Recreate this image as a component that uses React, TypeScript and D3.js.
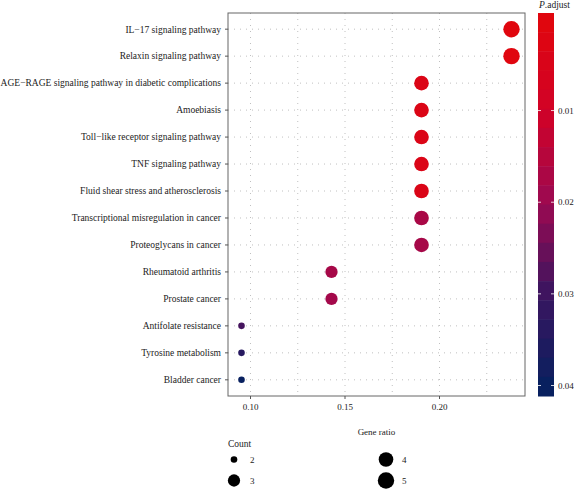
import React from "react";
import * as d3 from "d3";

const pathways = [
  "IL\u221217 signaling pathway",
  "Relaxin signaling pathway",
  "AGE\u2212RAGE signaling pathway in diabetic complications",
  "Amoebiasis",
  "Toll\u2212like receptor signaling pathway",
  "TNF signaling pathway",
  "Fluid shear stress and atherosclerosis",
  "Transcriptional misregulation in cancer",
  "Proteoglycans in cancer",
  "Rheumatoid arthritis",
  "Prostate cancer",
  "Antifolate resistance",
  "Tyrosine metabolism",
  "Bladder cancer",
];
const counts = [5, 5, 4, 4, 4, 4, 4, 4, 4, 3, 3, 2, 2, 2];
const geneRatios = [5 / 21, 5 / 21, 4 / 21, 4 / 21, 4 / 21, 4 / 21, 4 / 21, 4 / 21, 4 / 21, 3 / 21, 3 / 21, 2 / 21, 2 / 21, 2 / 21];
const pAdjust = [0.0004, 0.0006, 0.0035, 0.0035, 0.0038, 0.0038, 0.004, 0.0175, 0.018, 0.018, 0.0185, 0.029, 0.034, 0.0401];
const xTicks = [0.1, 0.15, 0.2];
const xMinor = [0.125, 0.175, 0.225];
const colorTicks = [0.01, 0.02, 0.03, 0.04];
const legendCounts = [2, 3, 4, 5];
const colorStops = ["#E0060E", "#D00228", "#9A0A52", "#3A1560", "#08205F"];

const W = 574, H = 489;
const panel = { left: 228, top: 13, right: 525, bottom: 396 };
const FONT = "'Liberation Serif', 'DejaVu Serif', serif";

export default function App() {
  const xMin = d3.min(geneRatios)!, xMax = d3.max(geneRatios)!;
  const pad = (xMax - xMin) * 0.05;
  const x = d3.scaleLinear().domain([xMin - pad, xMax + pad]).range([panel.left, panel.right]);
  const y = d3.scalePoint<string>().domain(pathways).range([panel.top, panel.bottom]).padding(0.6);
  const r = d3.scaleSqrt().domain([0, 3]).range([3.3, 8.2]);
  const pMin = d3.min(pAdjust)!, pMax = d3.max(pAdjust)!;
  const stopDomain = colorStops.map((_, i) => pMin + ((pMax - pMin) * i) / (colorStops.length - 1));
  const color = d3.scaleLinear<string>().domain(stopDomain).range(colorStops).interpolate(d3.interpolateRgb);

  const bar = { x: 538, w: 16, top: 13, bottom: 396 };
  const nbin = 20;
  const binH = (bar.bottom - bar.top) / nbin;
  const barPos = d3.scaleLinear().domain([pMin, pMax]).range([bar.top + binH / 2, bar.bottom - binH / 2]);
  const bins = d3.range(nbin).map((i) => ({ i, v: pMin + ((pMax - pMin) * i) / (nbin - 1) }));

  return (
    <svg width={W} height={H} style={{ position: "absolute", left: 0, top: 0, background: "#fff", fontFamily: FONT }}>
      {pathways.map((p) => (
        <line key={"gy" + p} x1={panel.left} x2={panel.right} y1={y(p)} y2={y(p)} stroke="#b0b0b0" strokeWidth={0.8} strokeDasharray="1,5" />
      ))}
      {[...xTicks, ...xMinor].map((t) => (
        <line key={"gx" + t} x1={x(t)} x2={x(t)} y1={panel.top} y2={panel.bottom} stroke="#b0b0b0" strokeWidth={0.8} strokeDasharray="1,5" />
      ))}
      {pathways.map((p, i) => (
        <circle key={"pt" + p} cx={x(geneRatios[i])} cy={y(p)} r={r(counts[i] - 2)} fill={color(pAdjust[i])} />
      ))}
      <rect x={panel.left} y={panel.top} width={panel.right - panel.left} height={panel.bottom - panel.top} fill="none" stroke="#666" strokeWidth={1} />
      {pathways.map((p) => (
        <g key={"yt" + p}>
          <line x1={panel.left - 3} x2={panel.left} y1={y(p)} y2={y(p)} stroke="#555" />
          <text x={panel.left - 7} y={y(p)} dy="0.35em" textAnchor="end" fontSize={9.5} fill="#222">{p}</text>
        </g>
      ))}
      {xTicks.map((t) => (
        <g key={"xt" + t}>
          <line x1={x(t)} x2={x(t)} y1={panel.bottom} y2={panel.bottom + 3} stroke="#555" />
          <text x={x(t)} y={panel.bottom + 14} textAnchor="middle" fontSize={9} fill="#222">{d3.format(".2f")(t)}</text>
        </g>
      ))}
      <text x={(panel.left + panel.right) / 2} y={435} textAnchor="middle" fontSize={9} fill="#222">Gene ratio</text>
      <text x={539} y={8} fontSize={9.5} fill="#222"><tspan fontStyle="italic">P</tspan>.adjust</text>
      {bins.map((b) => (
        <rect key={"bin" + b.i} x={bar.x} y={bar.top + b.i * binH} width={bar.w} height={binH + 0.5} fill={color(b.v)} />
      ))}
      {colorTicks.map((t) => (
        <g key={"ct" + t}>
          <line x1={bar.x} x2={bar.x + 3} y1={barPos(t)} y2={barPos(t)} stroke="#fff" strokeOpacity={0.8} />
          <line x1={bar.x + bar.w - 3} x2={bar.x + bar.w} y1={barPos(t)} y2={barPos(t)} stroke="#fff" strokeOpacity={0.8} />
          <text x={558} y={barPos(t)} dy="0.35em" fontSize={9} fill="#222">{d3.format(".2f")(t)}</text>
        </g>
      ))}
      <text x={228} y={447} fontSize={9.5} fill="#222">Count</text>
      {legendCounts.map((c, i) => {
        const cx = i < 2 ? 234 : 386;
        const cy = i % 2 === 0 ? 459.5 : 480.5;
        return (
          <g key={"lg" + c}>
            <circle cx={cx} cy={cy} r={r(c - 2)} fill="#000" />
            <text x={cx + 16} y={cy} dy="0.35em" fontSize={9} fill="#222">{c}</text>
          </g>
        );
      })}
    </svg>
  );
}
